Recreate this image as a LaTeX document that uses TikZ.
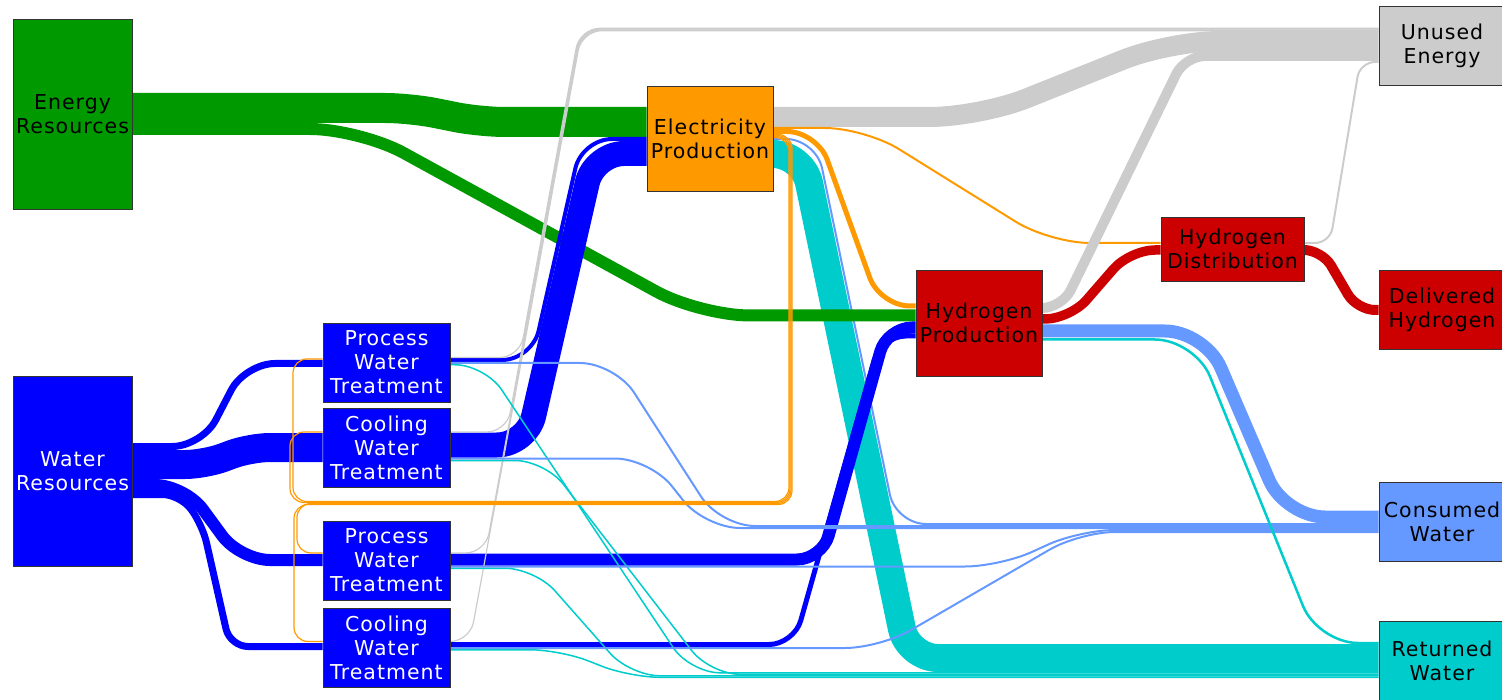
\documentclass[tikz,border=0pt]{standalone}
\usepackage{fontspec}
\setmainfont[LetterSpace=5]{DejaVu Sans}
\usepackage{xcolor}
\usepackage{tikz}
\usetikzlibrary{backgrounds}
\definecolor{energygreen}{RGB}{0,153,0}
\definecolor{waterblue}{RGB}{0,0,255}
\definecolor{elecorange}{RGB}{255,153,0}
\definecolor{hydrored}{RGB}{204,0,0}
\definecolor{unusedgray}{RGB}{204,204,204}
\definecolor{consumedblue}{RGB}{102,153,255}
\definecolor{returnedcyan}{RGB}{0,204,204}
\tikzset{
    box/.style={
        draw=black!80, line width=0.8pt, inner sep=0pt, align=center,
        font=\fontsize{20.5}{24}\selectfont
    },
    flow/.style={
        draw=#1, line cap=butt, line join=round
    }
}

\begin{document}
\begin{tikzpicture}[
        x=1pt, y=-1pt,
        % --- STYLE ---
        srcbox/.style={box, minimum width=119pt, minimum height=190pt},
        trtbox/.style={box, fill=waterblue, text=white, minimum width=127pt, minimum height=79pt},
        sinkbox/.style={box, minimum width=126pt, minimum height=79pt},
        hairline/.style={line width=1.2pt, rounded corners=20pt},
        loopline/.style={flow=elecorange, line width=1.2pt, rounded corners=14pt}
    ]
    \useasboundingbox (0,0) rectangle (1502,700);

    % ==========================================
    % NODES
    % ==========================================
    \node[srcbox, fill=energygreen] (er) at (72.5,114) {Energy\\Resources};
    \node[srcbox, fill=waterblue, text=white] (wr) at (72.5,471) {Water\\Resources};

    \node[trtbox] (pw1) at (386.5,362.5) {Process\\Water\\Treatment};
    \node[trtbox] (cw1) at (386.5,447.5) {Cooling\\Water\\Treatment};
    \node[trtbox] (pw2) at (386.5,560.5) {Process\\Water\\Treatment};
    \node[trtbox] (cw2) at (386.5,647.5) {Cooling\\Water\\Treatment};

    \node[box, fill=elecorange, minimum width=126pt, minimum height=105pt] (ep) at (710,138.5) {Electricity\\Production};
    \node[box, fill=hydrored, minimum width=126pt, minimum height=106pt] (hp) at (979,323) {Hydrogen\\Production};
    \node[box, fill=hydrored, minimum width=143pt, minimum height=64pt] (hd) at (1232.5,249) {Hydrogen\\Distribution};

    \node[sinkbox, fill=unusedgray] (ue) at (1442,45.5) {Unused\\Energy};
    \node[sinkbox, fill=hydrored] (dh) at (1442,309.5) {Delivered\\Hydrogen};
    \node[sinkbox, fill=consumedblue] (cwat) at (1442,521.5) {Consumed\\Water};
    \node[sinkbox, fill=returnedcyan] (rwat) at (1442,660.5) {Returned\\Water};

    \begin{scope}[on background layer]
        % ==========================================
        % ELECTRICITY OUT (under the rest)
        % ==========================================
        \draw[flow=unusedgray, line width=20pt, rounded corners=50pt] (ep.east |- 0,117) -- (980,117) -- (1170,41) -- (ue.west |- 0,41);
        \draw[flow=unusedgray, line width=2pt, rounded corners=15pt] (hd.east |- 0,243) -- (1330,243) -- (1360,62) -- (ue.west |- 0,62);
        \draw[flow=returnedcyan, line width=28pt, rounded corners=30pt] (ep.east |- 0,154) -- (803,154) -- (908,658) -- (rwat.west |- 0,658);
        \draw[flow=consumedblue, line width=2pt, rounded corners=30pt] (ep.east |- 0,139) -- (816,139) -- (896,524) -- (cwat.west |- 0,524);

        % ==========================================
        % ENERGY RESOURCES
        % ==========================================
        \draw[flow=energygreen, line width=30pt, rounded corners=25pt] (er.east |- 0,108) -- (410,108) -- (480,122) -- (ep.west |- 0,122);
        \draw[flow=energygreen, line width=12pt, rounded corners=50pt] (er.east |- 0,129) -- (360,129) -- (700,315.5) -- (hp.west |- 0,315.5);

        % ==========================================
        % WATER RESOURCES -> TREATMENT
        % ==========================================
        \draw[flow=waterblue, line width=7pt, rounded corners=30pt] (wr.east |- 0,446.5) -- (202,446.5) -- (245,363.5) -- (pw1.west |- 0,363.5);
        \draw[flow=waterblue, line width=29pt, rounded corners=20pt] (wr.east |- 0,464.5) -- (205,464.5) -- (250,447.5) -- (cw1.west |- 0,447.5);
        \draw[flow=waterblue, line width=12pt, rounded corners=30pt] (wr.east |- 0,485) -- (185,485) -- (240,560) -- (pw2.west |- 0,560);
        \draw[flow=waterblue, line width=7pt, rounded corners=18pt] (wr.east |- 0,494.5) -- (180.2,494.5) -- (202.5,525) -- (230,646.5) -- (cw2.west |- 0,646.5);

        % treated water -> electricity / hydrogen
        \draw[flow=waterblue, line width=4pt, rounded corners=30pt] (pw1.east |- 0,360) -- (532,360) -- (582,139) -- (ep.west |- 0,139);
        \draw[flow=waterblue, line width=25pt, rounded corners=30pt] (cw1.east |- 0,445) -- (527,445) -- (594,153.5) -- (ep.west |- 0,153.5);
        \draw[flow=waterblue, line width=12pt, rounded corners=25pt] (pw2.east |- 0,559.5) -- (822,559.5) -- (887,327.5) -- (hp.west |- 0,327.5);
        \draw[flow=waterblue, line width=5pt, rounded corners=25pt] (cw2.east |- 0,644.5) -- (794,644.5) -- (881,336) -- (hp.west |- 0,336);

        % ==========================================
        % TREATMENT LOSSES
        % ==========================================
        \draw[flow=unusedgray, hairline] (pw1.east |- 0,357.5) -- (519.6,357.5) -- (579.8,28.3) -- (ue.west |- 0,28.3);
        \draw[flow=unusedgray, hairline] (cw1.east |- 0,432) -- (506.7,432) -- (580.5,29.1) -- (ue.west |- 0,29.1);
        \draw[flow=unusedgray, hairline] (pw2.east |- 0,553) -- (485.4,553) -- (581.1,29.9) -- (ue.west |- 0,29.9);
        \draw[flow=unusedgray, hairline] (cw2.east |- 0,641.5) -- (470,641.5) -- (581.8,30.7) -- (ue.west |- 0,30.7);

        \draw[flow=returnedcyan, line width=1.5pt, rounded corners=30pt] (pw1.east |- 0,364.75) -- (485,364.75) -- (690,672.8) -- (rwat.west |- 0,672.8);
        \draw[flow=returnedcyan, line width=1.5pt, rounded corners=30pt] (cw1.east |- 0,460.5) -- (545,460.5) -- (710,674.3) -- (rwat.west |- 0,674.3);
        \draw[flow=returnedcyan, line width=1.5pt, rounded corners=30pt] (pw2.east |- 0,568.25) -- (535,568.25) -- (630,675.8) -- (rwat.west |- 0,675.8);
        \draw[flow=returnedcyan, line width=1.5pt, rounded corners=30pt] (cw2.east |- 0,649.75) -- (560,649.75) -- (630,677.3) -- (rwat.west |- 0,677.3);

        \draw[flow=consumedblue, line width=2pt, rounded corners=35pt] (pw1.east |- 0,363) -- (615,363) -- (720,526) -- (cwat.west |- 0,526);
        \draw[flow=consumedblue, line width=2pt, rounded corners=35pt] (cw1.east |- 0,458.5) -- (650,458.5) -- (705,528) -- (cwat.west |- 0,528);
        \draw[flow=consumedblue, line width=2pt, rounded corners=35pt] (pw2.east |- 0,566.5) -- (1000,566.5) -- (1080,530) -- (cwat.west |- 0,530);
        \draw[flow=consumedblue, line width=2pt, rounded corners=35pt] (cw2.east |- 0,648) -- (880,648) -- (1080,532) -- (cwat.west |- 0,532);

        % ==========================================
        % ELECTRICITY -> HYDROGEN / TREATMENT
        % ==========================================
        \draw[flow=elecorange, line width=2pt, rounded corners=40pt] (ep.east |- 0,128) -- (865,128) -- (1050,243) -- (hd.west |- 0,243);
        \draw[flow=elecorange, line width=5pt, rounded corners=30pt] (ep.east |- 0,131.5) -- (817,131.5) -- (880,306) -- (hp.west |- 0,306);

        \draw[loopline] (ep.east |- 0,137.5) -- (789,137.5) -- (789,501.5) -- (293,501.5) -- (293,359) -- (pw1.west |- 0,359);
        \draw[loopline] (ep.east |- 0,136.5) -- (790,136.5) -- (790,502.5) -- (290,502.5) -- (290,432) -- (cw1.west |- 0,432);
        \draw[loopline] (ep.east |- 0,135.5) -- (791,135.5) -- (791,503.5) -- (297,503.5) -- (297,553) -- (pw2.west |- 0,553);
        \draw[loopline] (ep.east |- 0,134.5) -- (792,134.5) -- (792,504.5) -- (294,504.5) -- (294,641.5) -- (cw2.west |- 0,641.5);

        % ==========================================
        % HYDROGEN
        % ==========================================
        \draw[flow=unusedgray, line width=10pt, rounded corners=20pt] (hp.east |- 0,308) -- (1062,308) -- (1185,56) -- (ue.west |- 0,56);
        \draw[flow=hydrored, line width=9.5pt, rounded corners=25pt] (hp.east |- 0,319) -- (1070,319) -- (1130,250) -- (hd.west |- 0,250);
        \draw[flow=hydrored, line width=10pt, rounded corners=18pt] (hd.east |- 0,250) -- (1322,250) -- (1357,310) -- (dh.west |- 0,310);
        \draw[flow=consumedblue, line width=13pt, rounded corners=40pt] (hp.east |- 0,331) -- (1205,331) -- (1285,517) -- (cwat.west |- 0,517);
        \draw[flow=returnedcyan, line width=2.5pt, rounded corners=40pt] (hp.east |- 0,339.5) -- (1195,339.5) -- (1318,643) -- (rwat.west |- 0,643);
    \end{scope}

\end{tikzpicture}
\end{document}
